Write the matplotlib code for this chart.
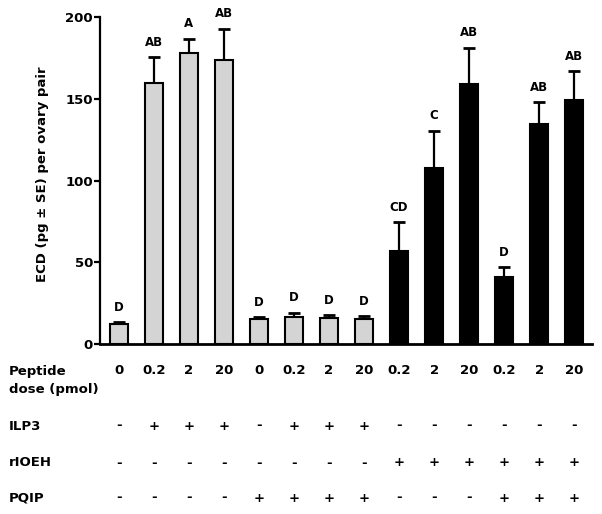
import matplotlib
matplotlib.use("Agg")
import matplotlib.pyplot as plt
import matplotlib.transforms as mtransforms
import numpy as np

plt.rcParams['font.family'] = ['DejaVu Sans']
plt.rcParams['font.weight'] = 'bold'

# ---- data ----
dose_labels = ['0', '0.2', '2', '20', '0', '0.2', '2', '20', '0.2', '2', '20', '0.2', '2', '20']
means = [12.5, 160, 178, 174, 15, 16.7, 15.7, 15.2, 57, 108, 159, 41, 134.5, 149.5]
errors = [1.0, 15.5, 9, 19, 1.3, 2.4, 2.0, 2.0, 17.7, 22.5, 22.5, 6, 13.5, 17.5]
letters = ['D', 'AB', 'A', 'AB', 'D', 'D', 'D', 'D', 'CD', 'C', 'AB', 'D', 'AB', 'AB']
ilp3 = ['-', '+', '+', '+', '-', '+', '+', '+', '-', '-', '-', '-', '-', '-']
rioeh = ['-', '-', '-', '-', '-', '-', '-', '-', '+', '+', '+', '+', '+', '+']
pqip = ['-', '-', '-', '-', '+', '+', '+', '+', '-', '-', '-', '+', '+', '+']
yticks = [0, 50, 100, 150, 200]
ylabel = 'ECD (pg \u00b1 SE) per ovary pair'

W, H = 602, 514
fig = plt.figure(figsize=(W / 100, H / 100), dpi=100)
ax = fig.add_axes([100 / W, 1 - 344 / H, (592 - 100) / W, (344 - 17.3) / H])

x = np.arange(len(means))
colors = ['black' if r == '+' else '#d4d4d4' for r in rioeh]
ax.bar(x, means, width=0.53, color=colors, edgecolor='black', linewidth=1.5, zorder=2)
ax.errorbar(x, means, yerr=[np.zeros(len(errors)), errors], fmt='none',
            ecolor='black', elinewidth=1.6, capsize=4.2, capthick=2.0, zorder=1)

for xi, m, e, lab in zip(x, means, errors, letters):
    ax.annotate(lab, (xi, m + e), xytext=(0, 6), textcoords='offset points',
                ha='center', va='bottom', fontsize=8.5, fontweight='bold')

ax.set_xlim(-0.54, 13.51)
ax.set_ylim(0, 200)
ax.set_yticks(yticks)
ax.set_yticklabels([str(t) for t in yticks], fontsize=9.5, fontweight='bold')
ax.set_xticks([])
for s in ['top', 'right']:
    ax.spines[s].set_visible(False)
ax.spines['left'].set_linewidth(1.6)
ax.spines['bottom'].set_linewidth(2.0)
ax.tick_params(axis='y', direction='out', length=4, width=1.6, pad=1)

fig.text(43 / W, 1 - 174 / H, ylabel, rotation=90, ha='center', va='center',
         fontsize=9.5, fontweight='bold')

# ---- table below ----
trans = mtransforms.blended_transform_factory(ax.transData, fig.transFigure)
fs = 9.5
fig.text(9 / W, 1 - 371 / H, 'Peptide', ha='left', va='center', fontsize=fs, fontweight='bold')
fig.text(9 / W, 1 - 389 / H, 'dose (pmol)', ha='left', va='center', fontsize=fs, fontweight='bold')
for xi, d in zip(x, dose_labels):
    fig.text(xi, 1 - 371 / H, d, transform=trans, ha='center', va='center',
             fontsize=fs, fontweight='bold')

rows = [('ILP3', ilp3, 426), ('rIOEH', rioeh, 463), ('PQIP', pqip, 498)]
for name, vals, ypix in rows:
    fig.text(9 / W, 1 - ypix / H, name, ha='left', va='center', fontsize=fs, fontweight='bold')
    for xi, v in zip(x, vals):
        fig.text(xi, 1 - ypix / H, v, transform=trans, ha='center', va='center',
                 fontsize=fs, fontweight='bold')

fig.savefig('out.png', dpi=100)
